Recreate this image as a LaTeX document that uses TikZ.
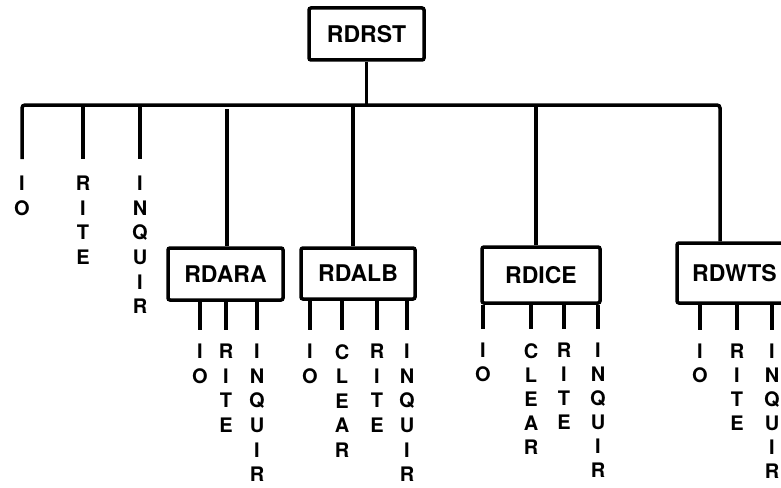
\documentclass[tikz,border=0pt]{standalone}
\usepackage{fontspec}
\setmainfont{TeX Gyre Heros}
\usetikzlibrary{positioning}

\begin{document}
\begin{tikzpicture}[
    x=1pt, y=-1pt,
    box/.style={draw, line width=3.5pt, rounded corners=2pt, minimum width=115pt, minimum height=52pt, inner sep=0pt, font=\fontsize{23}{26}\selectfont\bfseries},
    letters/.style={anchor=north, inner sep=0pt, align=center, font=\fontsize{20}{24.6}\selectfont\bfseries},
    tight/.style={letters, font=\fontsize{20}{24}\selectfont\bfseries},
    wire/.style={line width=3.5pt},
    drop/.style={wire, shorten >=14pt}
]
\useasboundingbox (0,0) rectangle (781,487);
\clip (0,0) rectangle (781,487);

\node[box] (rdrst) at (366.5,34) {RDRST};
\coordinate (bus) at (0,105);
\coordinate (busR) at (720,105);

% first level
\node[letters] (io0) at (22,176) {I\\O};
\node[letters] (rite0) at (83,176) {R\\I\\T\\E};
\node[letters] (inq0) at (140,176) {I\\N\\Q\\U\\I\\R};
\node[box] (rdara) at (225.5,274) {RDARA};
\node[box, minimum width=114pt, minimum height=51pt] (rdalb) at (358,273.5) {RDALB};
\node[box, minimum width=118pt, minimum height=56pt] (rdice) at (541,275) {RDICE};
\node[box, minimum height=60pt] (rdwts) at (734.5,273) {RDWTS};

% second level
\node[letters] (ioA) at (200,344) {I\\O};
\node[letters] (riteA) at (226,344) {R\\I\\T\\E};
\node[letters] (inqA) at (257,344) {I\\N\\Q\\U\\I\\R};
\node[letters] (ioB) at (310,344) {I\\O};
\node[letters] (clrB) at (342,344) {C\\L\\E\\A\\R};
\node[letters] (riteB) at (377,344) {R\\I\\T\\E};
\node[letters] (inqB) at (407,344) {I\\N\\Q\\U\\I\\R};
\node[tight] (ioC) at (483,343) {I\\O};
\node[tight] (clrC) at (531,343) {C\\L\\E\\A\\R};
\node[tight] (riteC) at (564,343) {R\\I\\T\\E};
\node[tight] (inqC) at (598,343) {I\\N\\Q\\U\\I\\R};
\node[tight] (ioD) at (700,344) {I\\O};
\node[tight] (riteD) at (737,344) {R\\I\\T\\E};
\node[tight] (inqD) at (772,344) {I\\N\\Q\\U\\I\\R};

% connectors
\draw[wire] (rdrst) -- (rdrst |- bus);
\draw[wire, rounded corners=3pt, shorten <=17pt] (io0.north) |- (busR) -- (busR |- rdwts.north);
\foreach \n in {rite0, inq0}
    \draw[drop, shorten >=17pt] (\n |- bus) -- (\n.north);
\draw[wire, shorten <=4pt] ([xshift=1.5pt]rdara.north |- bus) -- ([xshift=1.5pt]rdara.north);
\draw[wire] ([xshift=-5pt]rdalb.north |- bus) -- ([xshift=-5pt]rdalb.north);
\draw[wire] ([xshift=-5pt]rdice.north |- bus) -- ([xshift=-5pt]rdice.north);
\foreach \n in {ioA, riteA, inqA}
    \draw[drop] (\n |- rdara.south) -- (\n.north);
\foreach \n in {ioB, clrB, riteB, inqB}
    \draw[drop] (\n |- rdalb.south) -- (\n.north);
\foreach \n in {ioC, clrC, riteC, inqC}
    \draw[drop] (\n |- rdice.south) -- (\n.north);
\foreach \n in {ioD, riteD, inqD}
    \draw[drop] (\n |- rdwts.south) -- (\n.north);
\end{tikzpicture}
\end{document}
